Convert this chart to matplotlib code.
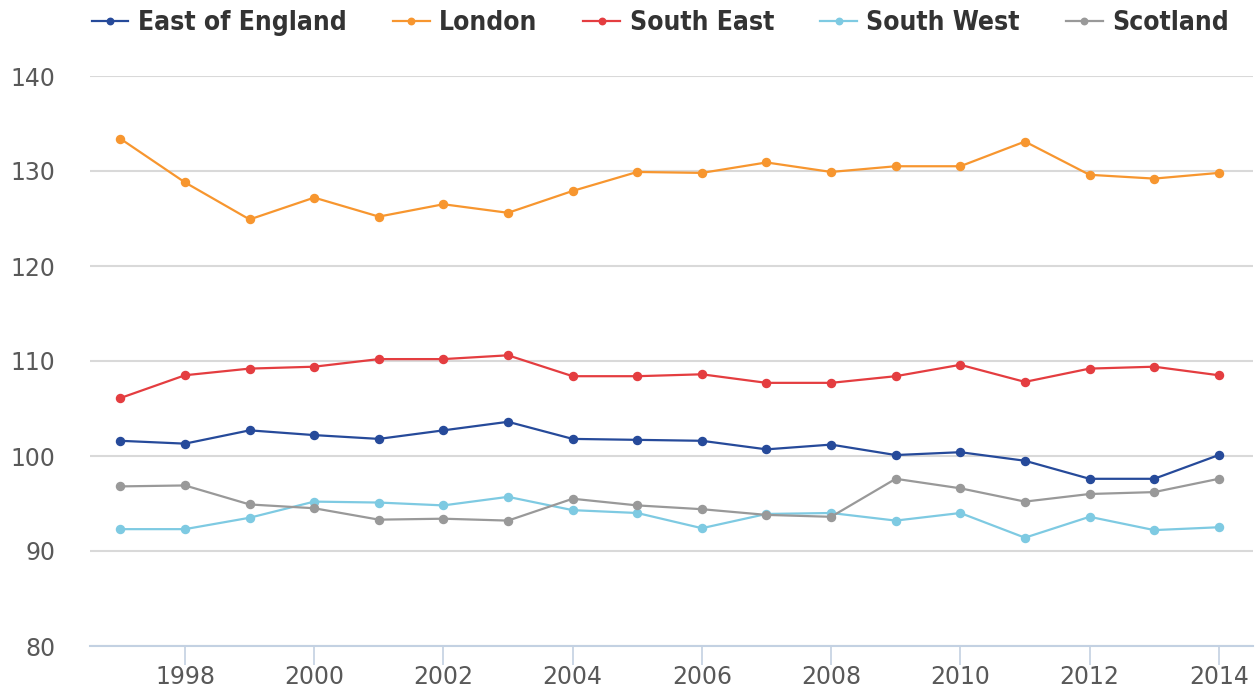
#!/usr/bin/env python3
"""Regional index lines, 1997-2014."""

import matplotlib
matplotlib.use("Agg")
import matplotlib.pyplot as plt

plt.rcParams["font.family"] = ["DejaVu Sans"]

years = list(range(1997, 2015))

east_of_england = [101.6, 101.3, 102.7, 102.2, 101.8, 102.7, 103.6, 101.8, 101.7,
                   101.6, 100.7, 101.2, 100.1, 100.4, 99.5, 97.6, 97.6, 100.1]
london = [133.4, 128.8, 124.9, 127.2, 125.2, 126.5, 125.6, 127.9, 129.9,
          129.8, 130.9, 129.9, 130.5, 130.5, 133.1, 129.6, 129.2, 129.8]
south_east = [106.1, 108.5, 109.2, 109.4, 110.2, 110.2, 110.6, 108.4, 108.4,
              108.6, 107.7, 107.7, 108.4, 109.6, 107.8, 109.2, 109.4, 108.5]
south_west = [92.3, 92.3, 93.5, 95.2, 95.1, 94.8, 95.7, 94.3, 94.0,
              92.4, 93.9, 94.0, 93.2, 94.0, 91.4, 93.6, 92.2, 92.5]
scotland = [96.8, 96.9, 94.9, 94.5, 93.3, 93.4, 93.2, 95.5, 94.8,
            94.4, 93.8, 93.6, 97.6, 96.6, 95.2, 96.0, 96.2, 97.6]

series = [
    ("East of England", east_of_england, "#264a9a"),
    ("London", london, "#f7962f"),
    ("South East", south_east, "#e43d40"),
    ("South West", south_west, "#7ecae2"),
    ("Scotland", scotland, "#999999"),
]

x_ticks = list(range(1998, 2015, 2))
y_ticks = [80, 90, 100, 110, 120, 130, 140]


def main():
    fig = plt.figure(figsize=(12.6, 6.9), dpi=100)
    ax = fig.add_axes([90 / 1260, 44 / 690, 1163 / 1260, 570 / 690])

    for name, values, color in series:
        ax.plot(years, values, color=color, linewidth=1.6, marker="o",
                markersize=5.8, label=name, clip_on=False, zorder=3)

    ax.set_xlim(1996.53, 2014.53)
    ax.set_ylim(80, 140)
    ax.set_yticks(y_ticks)
    ax.set_xticks(x_ticks)

    ax.grid(axis="y", color="#d9d9d9", linewidth=1.5)
    ax.set_axisbelow(True)
    for side in ("top", "right", "left"):
        ax.spines[side].set_visible(False)
    ax.spines["bottom"].set_color("#c3d1e2")
    ax.spines["bottom"].set_linewidth(1.5)

    ax.tick_params(axis="y", length=0, pad=25, labelsize=17, labelcolor="#595959")
    ax.tick_params(axis="x", length=14, width=1.2, color="#c3d1e2", pad=0,
                   labelsize=17, labelcolor="#595959")

    leg = fig.legend(loc="center", bbox_to_anchor=(0.524, 0.966), ncol=5,
                     frameon=False, handlelength=1.4, handletextpad=0.35,
                     columnspacing=1.75, markerscale=0.8,
                     prop={"family": "DejaVu Sans", "weight": "bold",
                           "size": 19, "stretch": "condensed"})
    for text in leg.get_texts():
        text.set_color("#333333")

    fig.savefig("out.png", dpi=100)


if __name__ == "__main__":
    main()
